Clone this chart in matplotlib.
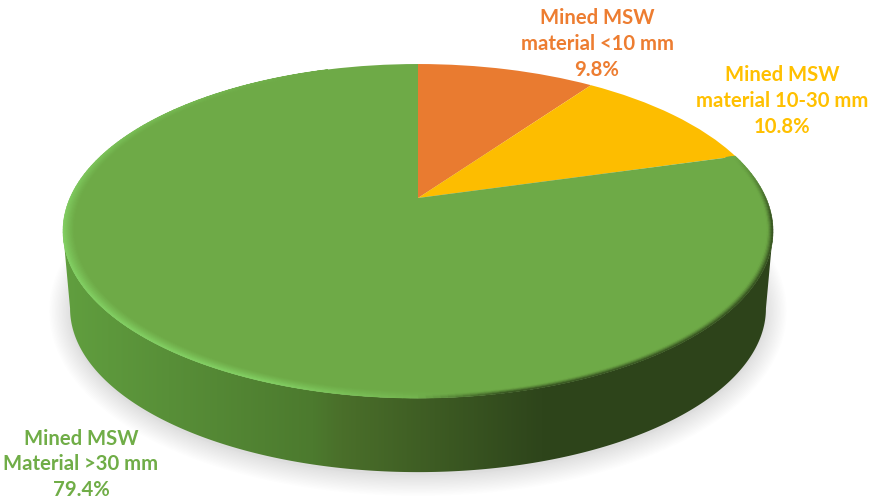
import numpy as np
import matplotlib
matplotlib.use("Agg")
import matplotlib.pyplot as plt
from matplotlib.collections import PolyCollection
from matplotlib.colors import LinearSegmentedColormap, to_rgb
from matplotlib.patches import Polygon
from matplotlib.transforms import Transform

plt.rcParams["font.family"] = ["Lato", "DejaVu Sans"]

labels = ["Mined MSW\nmaterial <10 mm", "Mined MSW\nmaterial 10-30 mm", "Mined MSW\nMaterial >30 mm"]
values = [9.8, 10.8, 79.4]
colors = ["#E97B30", "#FDBD00", "#6EAA47"]
label_text_colors = ["#ED7D31", "#FFC000", "#70AD47"]
label_x = [597, 782, 81]
label_y = [44, 101, 464.5]

CX, CY = 418, 198
A, B, K = 348, 160.5, 0.198
DEPTH, SHRINK = 78, 0.98


class Perspective(Transform):
    # tilted unit disc -> pixel coordinates, the far side comes out smaller
    input_dims = output_dims = 2
    is_separable = False
    has_inverse = False

    def __init__(self, shift=0.0, scale=1.0):
        super().__init__()
        self.shift = shift
        self.scale = scale

    def transform_non_affine(self, pts):
        pts = np.asarray(pts, dtype=float)
        w = 1 + K * pts[:, 1]
        return np.column_stack([
            CX + self.scale * A * pts[:, 0] / w,
            CY + self.shift - self.scale * B * pts[:, 1] / w,
        ])


top = Perspective()
bottom = Perspective(DEPTH, SHRINK)

fig = plt.figure(figsize=(8.71, 5.01), dpi=100)
ax = fig.add_axes([0, 0, 1, 1])
wedges, _ = ax.pie(values, colors=colors, startangle=90, counterclock=False, radius=1)
ax.set_aspect("auto")
ax.axis("off")

# soft shadow under the disc
theta = np.linspace(0, 2 * np.pi, 361)
circle = np.column_stack([np.sin(theta), np.cos(theta)])
shadow_xy = bottom.transform_non_affine(circle) + [0, 3]
for lw in np.arange(2, 32, 2):
    ax.add_patch(Polygon(shadow_xy, closed=True, facecolor="none", edgecolor="black",
                         alpha=0.009, lw=lw, zorder=0.2))
ax.add_patch(Polygon(shadow_xy, closed=True, facecolor="#dddddd", edgecolor="none", zorder=0.3))

# side wall with horizontal gradient, between the two tangent points of the near half
arc_ang = np.linspace(-np.pi + np.arcsin(K), -np.arcsin(K), 300)
arc = np.column_stack([np.cos(arc_ang), np.sin(arc_ang)])
side_xy = np.vstack([top.transform_non_affine(arc), bottom.transform_non_affine(arc)[::-1]])
side = Polygon(side_xy, closed=True, facecolor="none", edgecolor="none", zorder=0.5)
ax.add_patch(side)
side_cmap = LinearSegmentedColormap.from_list("side", [
    (0.00, "#619f3f"), (0.15, "#588f38"), (0.35, "#4c7a2e"), (0.39, "#4a6f2a"),
    (0.50, "#3f5e24"), (0.667, "#2e451b"), (1.00, "#2d431a"),
])
grad = ax.imshow(np.linspace(0, 1, 256)[None, :], cmap=side_cmap, aspect="auto",
                 extent=[60, 780, 501, 0], zorder=0.6)
grad.set_clip_path(side)
ax.set_xlim(0, 871)
ax.set_ylim(501, 0)

for w in wedges:
    w.set_transform(top + ax.transData)
    w.set_zorder(1)
    w.set_edgecolor("none")

# bevel round the rim of the green slice, opaque so the rings do not beat
base = np.array(to_rgb(colors[2]))
light = np.array(to_rgb("#86d668"))
dark = np.array(to_rgb("#2d431a"))
clock = np.arange(74.0, 342.0, 1.0)


def ramp(a, lo, hi):
    return np.clip((a - lo) / (hi - lo), 0, 1)


light_amt = ramp(clock, 172, 200) * (1 - ramp(clock, 255, 340))
dark_amt = ramp(clock, 74, 96) * (1 - ramp(clock, 168, 180))
rings = np.linspace(0.968, 1.0, 11)
quads = []
quad_colors = []
for r0, r1 in zip(rings[:-1], rings[1:]):
    mid = (0.5 * (r0 + r1) - rings[0]) / (rings[-1] - rings[0])
    for a, la, da in zip(np.radians(clock), light_amt, dark_amt):
        b = a + np.radians(1.0)
        quads.append(top.transform_non_affine(np.array([
            [r0 * np.sin(a), r0 * np.cos(a)], [r1 * np.sin(a), r1 * np.cos(a)],
            [r1 * np.sin(b), r1 * np.cos(b)], [r0 * np.sin(b), r0 * np.cos(b)],
        ])))
        col = base + (light - base) * 0.9 * la * mid ** 1.3
        col = col + (dark - col) * 0.95 * da * max(0, (mid - 0.5) / 0.5) ** 1.4
        quad_colors.append(col)
ax.add_collection(PolyCollection(quads, facecolors=quad_colors, edgecolors=quad_colors,
                                 linewidths=0.4, zorder=1.5), autolim=False)

for name, val, x, y, c in zip(labels, values, label_x, label_y, label_text_colors):
    ax.text(x, y, f"{name}\n{val}%", color=c, fontsize=14.6, fontweight="bold",
            ha="center", va="center", linespacing=1.36, zorder=3)

fig.savefig("out.png", dpi=100)
